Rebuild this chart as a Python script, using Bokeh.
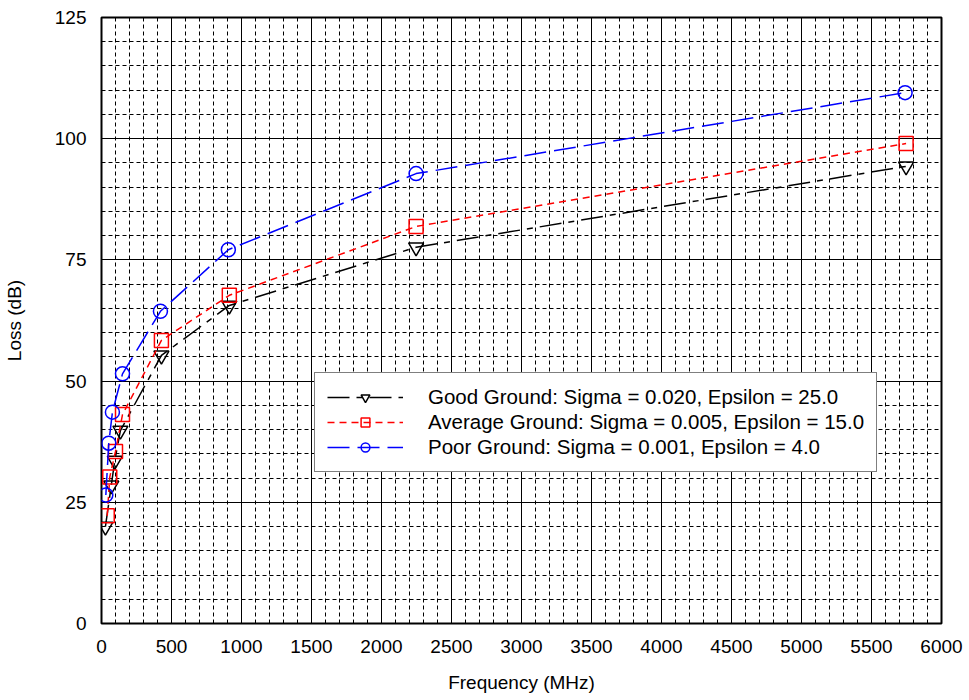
from bokeh.plotting import figure
from bokeh.models import Range1d, SingleIntervalTicker, Legend, LegendItem
from bokeh.embed import file_html
from bokeh.resources import INLINE

# Data (frequency in MHz, loss in dB)
good_freq = [28, 70, 95, 135, 428, 913, 2247, 5747]
good_loss = [20.0, 28.5, 33.6, 39.8, 55.3, 65.6, 77.6, 94.3]

avg_freq = [41, 59, 100, 150, 428, 913, 2247, 5747]
avg_loss = [22.2, 30.2, 35.5, 43.1, 58.4, 67.7, 81.9, 99.0]

poor_freq = [31, 52, 78, 150, 421, 906, 2247, 5740]
poor_loss = [26.5, 37.2, 43.6, 51.5, 64.4, 77.1, 92.8, 109.5]

labels = [
    "Good Ground: Sigma = 0.020, Epsilon = 25.0",
    "Average Ground: Sigma = 0.005, Epsilon = 15.0",
    "Poor Ground: Sigma = 0.001, Epsilon = 4.0",
]

FONT = "Liberation Sans"

p = figure(width=969, height=700, output_backend="svg", toolbar_location=None,
           x_range=Range1d(0, 6000), y_range=Range1d(0, 125),
           min_border_left=100, min_border_right=28, min_border_top=17,
           min_border_bottom=77)
p.background_fill_color = "white"
p.border_fill_color = "white"
p.outline_line_color = "black"
p.outline_line_width = 2

p.xaxis.ticker = SingleIntervalTicker(interval=500, num_minor_ticks=5)
p.yaxis.ticker = SingleIntervalTicker(interval=25, num_minor_ticks=5)

for ax in (p.xaxis, p.yaxis):
    ax.axis_line_color = None
    ax.major_tick_line_color = None
    ax.minor_tick_line_color = None
    ax.major_label_text_font = FONT
    ax.major_label_text_font_size = "19px"
    ax.major_label_text_color = "black"
    ax.axis_label_text_font = FONT
    ax.axis_label_text_font_size = "19px"
    ax.axis_label_text_font_style = "normal"
    ax.axis_label_text_color = "black"

p.xaxis.axis_label = "Frequency (MHz)"
p.yaxis.axis_label = "Loss (dB)"
p.xaxis.major_label_standoff = 10
p.xaxis.axis_label_standoff = 16
p.yaxis.major_label_standoff = 9
p.yaxis.axis_label_standoff = 27

for g in (p.xgrid, p.ygrid):
    g.grid_line_color = "black"
    g.grid_line_width = 1
    g.grid_line_alpha = 1
    g.minor_grid_line_color = "black"
    g.minor_grid_line_width = 1
    g.minor_grid_line_dash = "4 3"

l1 = p.line(good_freq, good_loss, line_color="black", line_width=1.5, line_dash="22 7 6 7")
m1 = p.scatter(good_freq, good_loss, marker="inverted_triangle", size=15,
               line_color="black", fill_color=None, line_width=1.5)
l2 = p.line(avg_freq, avg_loss, line_color="red", line_width=1.5, line_dash="7 5")
m2 = p.scatter(avg_freq, avg_loss, marker="square", size=14,
               line_color="red", fill_color=None, line_width=1.5)
l3 = p.line(poor_freq, poor_loss, line_color="blue", line_width=1.5, line_dash="22 8")
m3 = p.scatter(poor_freq, poor_loss, marker="circle", size=14,
               line_color="blue", fill_color=None, line_width=1.5)

legend = Legend(items=[
    LegendItem(label=labels[0], renderers=[l1, m1]),
    LegendItem(label=labels[1], renderers=[l2, m2]),
    LegendItem(label=labels[2], renderers=[l3, m3]),
], location=(213, 151))
legend.label_text_font = FONT
legend.label_text_font_size = "20.5px"
legend.label_text_color = "black"
legend.glyph_width = 76
legend.glyph_height = 22
legend.label_height = 22
legend.spacing = 1
legend.padding = 12
legend.margin = 0
legend.label_standoff = 25
legend.border_line_color = "black"
legend.border_line_width = 1.5
legend.background_fill_color = "white"
legend.background_fill_alpha = 1
p.add_layout(legend, "center")

open("out.html", "w").write(file_html(p, INLINE))
